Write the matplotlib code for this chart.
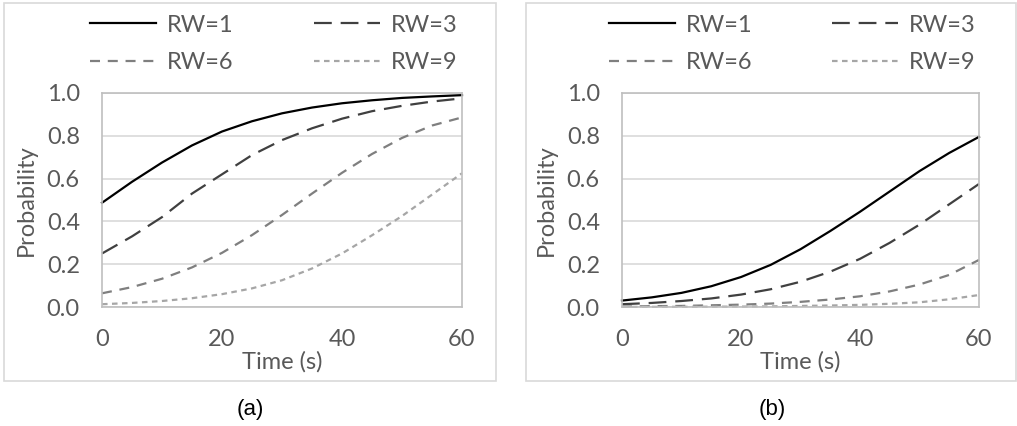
import matplotlib.pyplot as plt
from matplotlib.patches import Rectangle

# ================== Data ==================

time_s = [0, 5, 10, 15, 20, 25, 30, 35, 40, 45, 50, 55, 60]
labels = ['RW=1', 'RW=3', 'RW=6', 'RW=9']

# panel (a)
a_rw1 = [0.487, 0.585, 0.675, 0.755, 0.82, 0.868, 0.905, 0.932, 0.952, 0.966, 0.977, 0.984, 0.99]
a_rw3 = [0.25, 0.33, 0.42, 0.53, 0.62, 0.71, 0.78, 0.835, 0.88, 0.915, 0.94, 0.96, 0.975]
a_rw6 = [0.064, 0.093, 0.132, 0.185, 0.253, 0.336, 0.43, 0.53, 0.627, 0.715, 0.79, 0.848, 0.886]
a_rw9 = [0.013, 0.019, 0.028, 0.041, 0.06, 0.087, 0.125, 0.18, 0.25, 0.335, 0.425, 0.525, 0.625]

# panel (b)
b_rw1 = [0.03, 0.045, 0.066, 0.097, 0.14, 0.197, 0.27, 0.355, 0.445, 0.54, 0.635, 0.72, 0.795]
b_rw3 = [0.013, 0.019, 0.028, 0.04, 0.058, 0.083, 0.118, 0.165, 0.225, 0.30, 0.385, 0.48, 0.575]
b_rw6 = [0.002, 0.004, 0.005, 0.008, 0.011, 0.016, 0.024, 0.035, 0.05, 0.073, 0.105, 0.15, 0.22]
b_rw9 = [0.0005, 0.0007, 0.001, 0.0015, 0.002, 0.003, 0.005, 0.007, 0.01, 0.015, 0.022, 0.036, 0.056]

styles = [
    dict(color='#000000', linestyle='-'),
    dict(color='#404040', linestyle=(0, (8, 4))),
    dict(color='#7f7f7f', linestyle=(0, (4.5, 3.5))),
    dict(color='#a6a6a6', linestyle=(0, (2.5, 2))),
]

plt.rcParams['font.family'] = ['Lato', 'DejaVu Sans']
txt = '#595959'
fs = 17

W, H = 1017, 426
fig = plt.figure(figsize=(W / 100, H / 100), dpi=100)

# panel frames
fig.add_artist(Rectangle((4 / W, 1 - 381 / H), 492 / W, 378 / H, transform=fig.transFigure,
                         fill=False, edgecolor='#d9d9d9', linewidth=1.2))
fig.add_artist(Rectangle((526 / W, 1 - 381 / H), 490 / W, 378 / H, transform=fig.transFigure,
                         fill=False, edgecolor='#d9d9d9', linewidth=1.2))


def draw_panel(left, width, series, tag, tag_x):
    ax = fig.add_axes([left / W, 1 - 307 / H, width / W, 214 / H])
    lines = []
    for ys, lab, st in zip(series, labels, styles):
        ln, = ax.plot(time_s, ys, linewidth=1.6, label=lab, clip_on=False, **st)
        lines.append(ln)
    ax.set_xlim(0, 60)
    ax.set_ylim(0, 1)
    ax.set_xticks([0, 20, 40, 60])
    ax.set_yticks([0, 0.2, 0.4, 0.6, 0.8, 1.0])
    ax.set_yticklabels(['0.0', '0.2', '0.4', '0.6', '0.8', '1.0'])
    ax.grid(axis='y', color='#d9d9d9', linewidth=1.2)
    ax.set_axisbelow(True)
    for s in ax.spines.values():
        s.set_color('#bfbfbf')
        s.set_linewidth(1.2)
    ax.tick_params(length=0, labelsize=fs, labelcolor=txt)
    ax.tick_params(axis='y', pad=16)
    ax.tick_params(axis='x', pad=16)
    ax.set_xlabel('Time (s)', fontsize=fs, color=txt, va='center')
    ax.xaxis.set_label_coords(0.5, (307 - 362) / 214)
    ax.set_ylabel('Probability', fontsize=fs, color=txt, va='center')
    ax.yaxis.set_label_coords(-76 / width, 0.5)
    # row-major order: RW=1, RW=3 on top, RW=6, RW=9 below
    order = [0, 2, 1, 3]
    ax.legend([lines[i] for i in order], [labels[i] for i in order],
              loc='center', bbox_to_anchor=(0.477, (307 - 44) / 214), ncol=2,
              frameon=False, fontsize=fs, labelcolor=txt, handlelength=2.8,
              handletextpad=0.45, columnspacing=3.4, labelspacing=0.7)
    fig.text(tag_x / W, 1 - 410 / H, tag, fontsize=16, family='Liberation Sans',
             ha='center', va='center', color='#000000')
    return ax


draw_panel(102, 360, [a_rw1, a_rw3, a_rw6, a_rw9], '(a)', 250)
draw_panel(622, 357, [b_rw1, b_rw3, b_rw6, b_rw9], '(b)', 772)

fig.savefig('out.png', dpi=100)
